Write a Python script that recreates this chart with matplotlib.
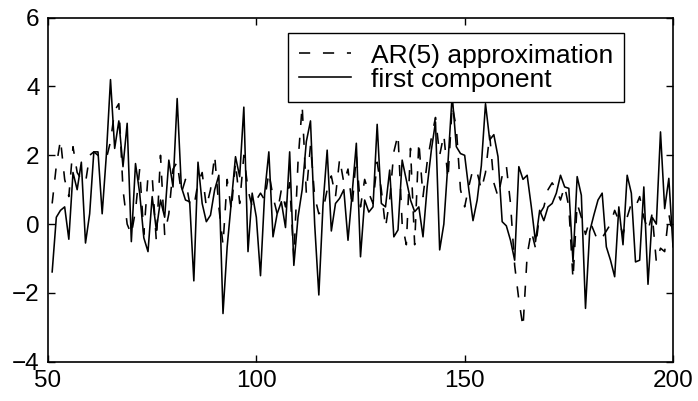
import matplotlib
matplotlib.use("Agg")
import matplotlib.pyplot as plt
import numpy as np

plt.rcParams['font.family'] = ['Liberation Sans', 'DejaVu Sans']

t = list(range(51, 201))

first_component = [
    -1.39, 0.2, 0.4, 0.5, -0.44, 1.5, 1.0, 1.8, -0.55, 0.3,          # 51-60
    2.1, 2.1, 0.3, 2.0, 4.2, 2.2, 3.0, 1.67, 2.93, -0.51,            # 61-70
    1.76, 0.9, -0.4, -0.8, 0.8, -0.17, 0.7, 0.2, 1.86, 1.08,         # 71-80
    3.65, 1.08, 0.7, 0.65, -1.65, 1.8, 0.6, 0.07, 0.26, 1.0,         # 81-90
    1.42, -2.6, -0.66, 0.65, 1.96, 1.38, 3.4, -0.8, 0.9, 0.2,        # 91-100
    -1.5, 0.9, 2.1, -0.37, 0.3, 0.65, -0.1, 2.1, -1.2, 0.2,          # 101-110
    1.0, 2.4, 3.0, 0.0, -2.06, 0.55, 2.15, -0.2, 0.6, 0.75,          # 111-120
    1.0, -0.47, 0.9, 2.35, -0.95, 0.7, 0.35, 0.5, 2.9, 0.6,          # 121-130
    0.5, 1.57, -0.37, -0.17, 1.86, 1.28, 0.7, 0.36, 0.5, -0.37,      # 131-140
    1.08, 2.15, 2.97, -0.75, 0.0, 1.8, 3.75, 2.25, 2.05, 2.0,        # 141-150
    1.0, 0.1, 0.7, 1.7, 3.5, 2.45, 2.6, 1.96, 0.07, -0.05,           # 151-160
    -0.47, -1.05, 1.67, 1.3, 1.42, 0.5, -0.51, 0.4, 0.1, 0.5,        # 161-170
    0.6, 0.9, 1.42, 1.08, 1.04, -1.1, 1.38, 0.84, -2.45, -0.22,      # 171-180
    0.26, 0.7, 0.9, -0.66, -1.05, -1.53, 0.5, -0.6, 1.42, 0.9,       # 181-190
    -1.1, -1.05, 1.08, -1.75, 0.2, 0.0, 2.68, 0.45, 1.33, -0.66,     # 191-200
]

ar5_approx = [
    0.6, 1.7, 2.45, 1.3, 0.8, 2.25, 1.5, 1.3, 1.2, 2.0,              # 51-60
    2.1, 2.0, 1.9, 1.9, 2.4, 3.3, 3.5, 1.0, 0.0, -0.3,               # 61-70
    0.4, 1.6, -0.3, 1.4, 1.4, -0.5, 2.0, -0.3, 0.3, 1.6,             # 71-80
    1.8, 0.9, 1.3, 0.6, 0.5, 1.2, 1.5, 0.5, 1.0, 2.0,                # 81-90
    0.5, -0.6, 1.3, 0.4, 1.8, 0.6, 2.0, 1.0, 0.5, 0.7,               # 91-100
    0.9, 0.7, 1.5, 0.8, 0.3, 1.0, 0.5, 1.2, -1.0, 1.8,               # 101-110
    3.45, 0.9, 2.3, 0.8, 0.3, 0.4, 1.0, 1.4, 0.8, 1.9,               # 111-120
    1.2, 1.6, 0.5, 2.0, 0.5, 1.3, 0.9, 0.6, 1.8, 1.0,                # 121-130
    -0.1, 0.7, 2.1, 2.6, 0.0, -0.6, 2.2, -0.6, 2.4, 0.8,             # 131-140
    1.8, 2.5, 3.1, 2.0, 2.6, 1.3, 3.45, 2.8, 1.0, 0.5,               # 141-150
    1.1, 1.6, 1.5, 1.0, 1.5, 2.6, 1.2, 0.8, 1.4, 1.7,                # 151-160
    0.6, -1.2, -2.2, -3.0, -0.9, -0.2, -0.7, 0.3, 0.5, 1.0,          # 161-170
    1.2, 1.0, 0.7, 1.1, 0.5, -1.6, 0.6, 0.2, -0.3, 0.1,              # 171-180
    -0.2, -0.5, -0.4, -0.2, 0.0, 0.4, 0.1, -0.3, 0.2, 0.6,           # 181-190
    0.5, 0.8, 0.2, -0.2, 0.3, -1.1, -0.7, -0.8, 0.3, -0.4,           # 191-200
]

x_ticks = [50, 100, 150, 200]
y_ticks = [-4, -2, 0, 2, 4, 6]
y_tick_labels = ['\u22124', '\u22122', '0', '2', '4', '6']

fig = plt.figure(figsize=(6.98, 4.01), dpi=100)
ax = fig.add_axes([48/698, 1 - 361.7/401, 625/698, 344/401])

ax.plot(t, ar5_approx, color='black', lw=1.15, linestyle=(0, (7, 8)),
        label='AR(5) approximation')
ax.plot(t, first_component, color='black', lw=1.15, linestyle='-',
        label='first component')

ax.set_xlim(50, 200)
ax.set_ylim(-4, 6)
ax.set_xticks(x_ticks)
ax.set_yticks(y_ticks)
ax.set_yticklabels(y_tick_labels)
ax.tick_params(direction='in', length=5, width=1, labelsize=17.5,
               top=True, right=True, pad=6)
for s in ax.spines.values():
    s.set_linewidth(1.2)

leg = ax.legend(loc='upper right', bbox_to_anchor=(0.9216, 0.9555),
                borderaxespad=0, fancybox=False, framealpha=1,
                edgecolor='black', fontsize=19, handlelength=2.0,
                handletextpad=0.75, borderpad=0.4, labelspacing=0.0)
leg.get_frame().set_linewidth(1.0)

fig.savefig('out.png', dpi=100)
